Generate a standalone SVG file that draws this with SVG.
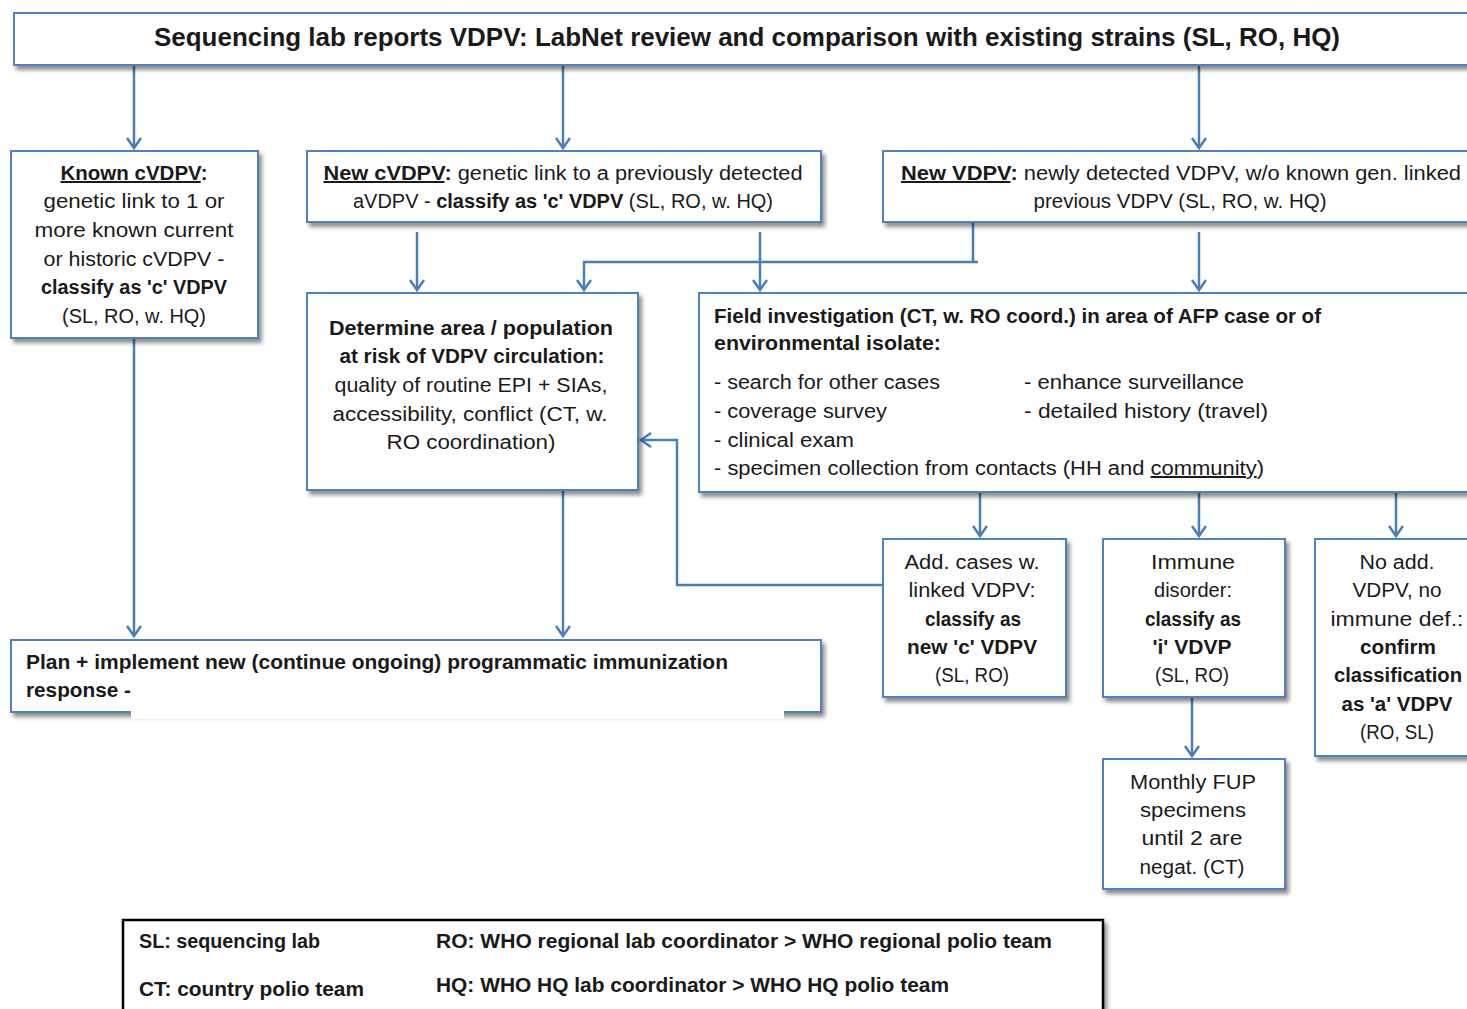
<svg xmlns="http://www.w3.org/2000/svg" width="1467" height="1009" viewBox="0 0 1467 1009">
<defs>
<filter id="sh" x="-5%" y="-10%" width="115%" height="130%">
<feDropShadow dx="3" dy="4" stdDeviation="2" flood-color="#000" flood-opacity="0.45"/>
</filter>
<marker id="ar" markerUnits="userSpaceOnUse" markerWidth="18" markerHeight="18" refX="12" refY="8" orient="auto">
<path d="M2,1 L12,8 L2,15" fill="none" stroke="#4a7ebb" stroke-width="2.5"/>
</marker>
<style>
.box{fill:#fff;stroke:#4f81bd;stroke-width:2;filter:url(#sh)}
.leg{fill:#fff;stroke:#000;stroke-width:2.5;filter:url(#sh)}
text{font-family:"Liberation Sans",Arial,sans-serif;font-size:20px;fill:#1a1a1a}
.c{text-anchor:middle}
.b{font-weight:bold}
.t{font-size:26px;font-weight:bold}
.u{text-decoration:underline}
.con{fill:none;stroke:#4a7ebb;stroke-width:2.5}
</style>
</defs>
<g id="connectors">
<path class="con" d="M134,65 V148" marker-end="url(#ar)"/>
<path class="con" d="M563,65 V148" marker-end="url(#ar)"/>
<path class="con" d="M1199,65 V148" marker-end="url(#ar)"/>
<path class="con" d="M134,338 V636" marker-end="url(#ar)"/>
<path class="con" d="M417,232 V290" marker-end="url(#ar)"/>
<path class="con" d="M760,232 V290" marker-end="url(#ar)"/>
<path class="con" d="M973,223 V262 M978,262 H584 V290" marker-end="url(#ar)"/>
<path class="con" d="M1199,232 V290" marker-end="url(#ar)"/>
<path class="con" d="M563,490 V636" marker-end="url(#ar)"/>
<path class="con" d="M980,492 V536" marker-end="url(#ar)"/>
<path class="con" d="M1199,492 V536" marker-end="url(#ar)"/>
<path class="con" d="M1396,492 V536" marker-end="url(#ar)"/>
<path class="con" d="M883,585 H677 V440 H641" marker-end="url(#ar)"/>
<path class="con" d="M1192,697 V756" marker-end="url(#ar)"/>
</g>
<g id="top">
<rect class="box" x="14" y="13" width="1470" height="52"/>
<text class="t c" x="747" y="46" textLength="1186" lengthAdjust="spacingAndGlyphs">Sequencing lab reports VDPV: LabNet review and comparison with existing strains (SL, RO, HQ)</text>
</g>
<g id="known">
<rect class="box" x="11" y="151" width="247" height="187"/>
<text class="c b" x="134" y="180" textLength="147" lengthAdjust="spacingAndGlyphs"><tspan class="u">Known cVDPV</tspan>:</text>
<text class="c" x="134" y="208" textLength="181" lengthAdjust="spacingAndGlyphs">genetic link to 1 or</text>
<text class="c" x="134" y="237" textLength="199" lengthAdjust="spacingAndGlyphs">more known current</text>
<text class="c" x="134" y="266" textLength="181" lengthAdjust="spacingAndGlyphs">or historic cVDPV -</text>
<text class="c b" x="134" y="294" textLength="186" lengthAdjust="spacingAndGlyphs">classify as  'c' VDPV</text>
<text class="c" x="134" y="323" textLength="144" lengthAdjust="spacingAndGlyphs">(SL, RO, w. HQ)</text>
</g>
<g id="newc">
<rect class="box" x="307" y="151" width="514" height="71"/>
<text class="c" x="563" y="180" textLength="479" lengthAdjust="spacingAndGlyphs"><tspan class="b u">New cVDPV</tspan><tspan class="b">:</tspan> genetic link to a previously detected</text>
<text class="c" x="563" y="208" textLength="420" lengthAdjust="spacingAndGlyphs">aVDPV - <tspan class="b">classify as 'c' VDPV</tspan> (SL, RO, w. HQ)</text>
</g>
<g id="newv">
<rect class="box" x="883" y="151" width="600" height="71"/>
<text x="901" y="180" textLength="560" lengthAdjust="spacingAndGlyphs"><tspan class="b u">New VDPV</tspan><tspan class="b">:</tspan> newly detected VDPV, w/o known gen. linked</text>
<text class="c" x="1180" y="208" textLength="293" lengthAdjust="spacingAndGlyphs">previous VDPV (SL, RO, w. HQ)</text>
</g>
<g id="determine">
<rect class="box" x="307" y="293" width="331" height="197"/>
<text class="c b" x="471" y="335" textLength="284" lengthAdjust="spacingAndGlyphs">Determine area / population</text>
<text class="c b" x="472" y="363" textLength="265" lengthAdjust="spacingAndGlyphs">at risk of VDPV circulation:</text>
<text class="c" x="471" y="392" textLength="273" lengthAdjust="spacingAndGlyphs">quality of routine EPI + SIAs,</text>
<text class="c" x="470" y="421" textLength="275" lengthAdjust="spacingAndGlyphs">accessibility, conflict  (CT, w.</text>
<text class="c" x="471" y="449" textLength="169" lengthAdjust="spacingAndGlyphs">RO coordination)</text>
</g>
<g id="field">
<rect class="box" x="699" y="293" width="790" height="199"/>
<text class="b" x="714" y="323" textLength="607" lengthAdjust="spacingAndGlyphs">Field investigation (CT, w. RO coord.) in area of AFP case or of</text>
<text class="b" x="714" y="350" textLength="227" lengthAdjust="spacingAndGlyphs">environmental isolate:</text>
<text x="714" y="389" textLength="226" lengthAdjust="spacingAndGlyphs">- search for other cases</text>
<text x="714" y="418" textLength="173" lengthAdjust="spacingAndGlyphs">- coverage survey</text>
<text x="714" y="447" textLength="140" lengthAdjust="spacingAndGlyphs">- clinical exam</text>
<text x="714" y="475" textLength="550" lengthAdjust="spacingAndGlyphs">- specimen collection from contacts (HH and <tspan class="u">community</tspan>)</text>
<text x="1024" y="389" textLength="220" lengthAdjust="spacingAndGlyphs">- enhance surveillance</text>
<text x="1024" y="418" textLength="244" lengthAdjust="spacingAndGlyphs">- detailed history (travel)</text>
</g>
<g id="addcases">
<rect class="box" x="883" y="539" width="183" height="158"/>
<text class="c" x="972" y="569" textLength="135" lengthAdjust="spacingAndGlyphs">Add. cases  w.</text>
<text class="c" x="972" y="597" textLength="127" lengthAdjust="spacingAndGlyphs">linked VDPV:</text>
<text class="c b" x="973" y="626" textLength="96" lengthAdjust="spacingAndGlyphs">classify as</text>
<text class="c b" x="972" y="654" textLength="130" lengthAdjust="spacingAndGlyphs">new 'c' VDPV</text>
<text class="c" x="972" y="682" textLength="74" lengthAdjust="spacingAndGlyphs">(SL, RO)</text>
</g>
<g id="immune">
<rect class="box" x="1103" y="539" width="182" height="158"/>
<text class="c" x="1193" y="569" textLength="84" lengthAdjust="spacingAndGlyphs">Immune</text>
<text class="c" x="1193" y="597" textLength="78" lengthAdjust="spacingAndGlyphs">disorder:</text>
<text class="c b" x="1193" y="626" textLength="96" lengthAdjust="spacingAndGlyphs">classify as</text>
<text class="c b" x="1192" y="654" textLength="79" lengthAdjust="spacingAndGlyphs">'i' VDVP</text>
<text class="c" x="1192" y="682" textLength="74" lengthAdjust="spacingAndGlyphs">(SL, RO)</text>
</g>
<g id="noadd">
<rect class="box" x="1315" y="539" width="170" height="217"/>
<text class="c" x="1397" y="569" textLength="75" lengthAdjust="spacingAndGlyphs">No add.</text>
<text class="c" x="1397" y="597" textLength="89" lengthAdjust="spacingAndGlyphs">VDPV, no</text>
<text class="c" x="1397" y="626" textLength="133" lengthAdjust="spacingAndGlyphs">immune def.:</text>
<text class="c b" x="1398" y="654" textLength="76" lengthAdjust="spacingAndGlyphs">confirm</text>
<text class="c b" x="1398" y="682" textLength="128" lengthAdjust="spacingAndGlyphs">classification</text>
<text class="c b" x="1397" y="711" textLength="111" lengthAdjust="spacingAndGlyphs">as 'a' VDPV</text>
<text class="c" x="1397" y="739" textLength="74" lengthAdjust="spacingAndGlyphs">(RO, SL)</text>
</g>
<g id="monthly">
<rect class="box" x="1103" y="759" width="182" height="130"/>
<text class="c" x="1193" y="789" textLength="126" lengthAdjust="spacingAndGlyphs">Monthly FUP</text>
<text class="c" x="1193" y="817" textLength="106" lengthAdjust="spacingAndGlyphs">specimens</text>
<text class="c" x="1192" y="845" textLength="101" lengthAdjust="spacingAndGlyphs">until 2  are</text>
<text class="c" x="1192" y="874" textLength="105" lengthAdjust="spacingAndGlyphs">negat. (CT)</text>
</g>
<g id="plan">
<rect class="box" x="11" y="640" width="810" height="72"/>
<text class="b" x="26" y="669" textLength="702" lengthAdjust="spacingAndGlyphs">Plan + implement new (continue ongoing) programmatic immunization</text>
<text class="b" x="26" y="697" textLength="105" lengthAdjust="spacingAndGlyphs">response  -</text>
<rect x="131" y="701" width="653" height="18" fill="#fff"/>
</g>
<g id="legend">
<rect class="leg" x="123" y="920" width="980" height="110"/>
<text class="b" x="139" y="948" textLength="181" lengthAdjust="spacingAndGlyphs">SL: sequencing lab</text>
<text class="b" x="139" y="996" textLength="225" lengthAdjust="spacingAndGlyphs">CT: country polio team</text>
<text class="b" x="436" y="948" textLength="616" lengthAdjust="spacingAndGlyphs">RO:  WHO regional lab coordinator &gt; WHO regional polio team</text>
<text class="b" x="436" y="992" textLength="513" lengthAdjust="spacingAndGlyphs">HQ: WHO HQ lab coordinator &gt; WHO HQ polio team</text>
</g>
</svg>
